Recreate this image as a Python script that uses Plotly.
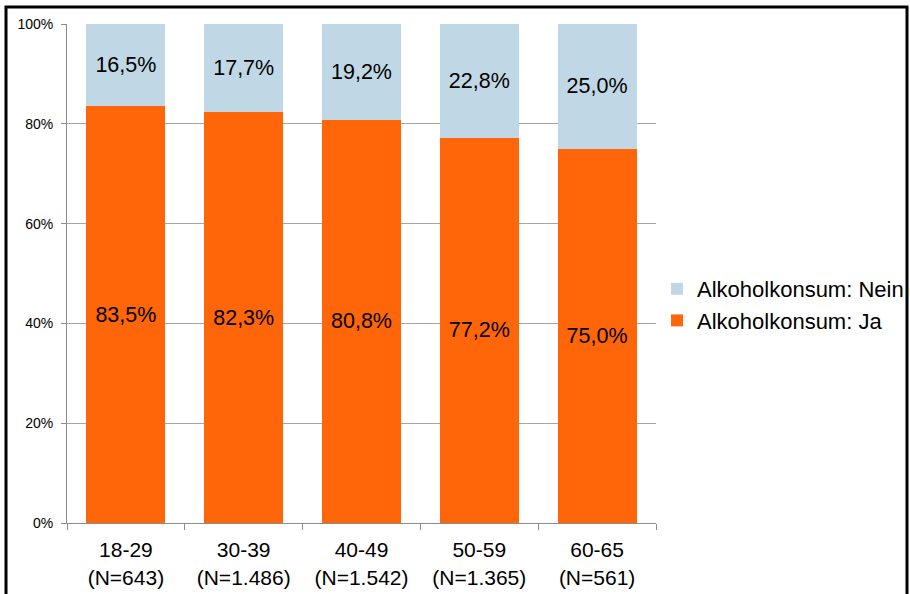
import plotly.graph_objects as go

categories = ["18-29<br>(N=643)", "30-39<br>(N=1.486)", "40-49<br>(N=1.542)", "50-59<br>(N=1.365)", "60-65<br>(N=561)"]
ja = [83.5, 82.3, 80.8, 77.2, 75.0]
nein = [16.5, 17.7, 19.2, 22.8, 25.0]
y_ticks = [0, 20, 40, 60, 80, 100]
y_tick_labels = ["0%", "20%", "40%", "60%", "80%", "100%"]

def fmt(v):
    return f"{v:.1f}".replace(".", ",") + "%"

font_family = "Liberation Sans, Arial, sans-serif"

fig = go.Figure()
fig.add_trace(go.Bar(
    x=categories, y=ja, name="Alkoholkonsum: Ja",
    marker=dict(color="#FF6509", line=dict(width=0)),
    text=[fmt(v) for v in ja], textposition="inside", insidetextanchor="middle",
    textfont=dict(size=21.5, color="black", family=font_family),
    textangle=0,
))
fig.add_trace(go.Bar(
    x=categories, y=nein, name="Alkoholkonsum: Nein",
    marker=dict(color="#C0D8E5", line=dict(width=0)),
    text=[fmt(v) for v in nein], textposition="inside", insidetextanchor="middle",
    textfont=dict(size=21.5, color="black", family=font_family),
    textangle=0,
))

W, H = 910, 594
L, R, T, B = 67, 656, 24, 523

def px_to_paper_x(p):
    return (p - L) / (R - L)

def px_to_paper_y(p):
    return (B - p) / (B - T)

fig.update_layout(
    width=W, height=H,
    barmode="stack", bargap=0.33,
    plot_bgcolor="white", paper_bgcolor="white",
    margin=dict(l=L, r=W - R, t=T, b=H - B, autoexpand=False),
    font=dict(family=font_family, color="black"),
    legend=dict(
        x=px_to_paper_x(657), y=px_to_paper_y(305), xanchor="left", yanchor="middle",
        traceorder="reversed", font=dict(size=22, color="black"),
        itemwidth=30, tracegroupgap=0, bgcolor="rgba(0,0,0,0)",
    ),
    showlegend=True,
)
fig.update_xaxes(
    showline=True, linecolor="#8c8c8c", linewidth=1,
    ticks="outside", tickson="boundaries", ticklen=6, tickcolor="#8c8c8c",
    tickfont=dict(size=21, color="black"), ticklabelstandoff=8, showgrid=False,
)
fig.update_yaxes(
    range=[0, 100], tickvals=y_ticks, ticktext=y_tick_labels,
    showline=True, linecolor="#8c8c8c", linewidth=1,
    ticks="outside", ticklen=5, tickcolor="#8c8c8c",
    tickfont=dict(size=14, color="black"), ticklabelstandoff=5,
    showgrid=True, gridcolor="#a6a6a6", gridwidth=1, zeroline=False,
)
fig.add_shape(
    type="rect", xref="paper", yref="paper",
    x0=px_to_paper_x(6), x1=px_to_paper_x(907),
    y0=px_to_paper_y(620), y1=px_to_paper_y(7),
    line=dict(color="black", width=3), fillcolor="rgba(0,0,0,0)", layer="above",
)
fig.write_html(
    "out.html",
    config={"displayModeBar": False},
    post_script="document.body.style.margin='0';document.body.style.overflow='hidden';",
)
